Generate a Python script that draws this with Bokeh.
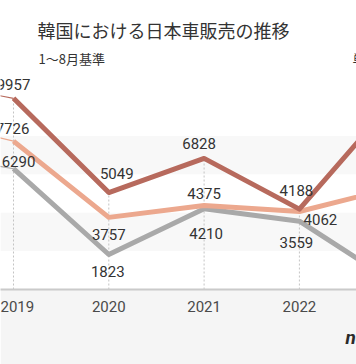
from bokeh.plotting import figure
from bokeh.models import Range1d, FixedTicker, BoxAnnotation, Label, ColumnDataSource, Title
from bokeh.embed import file_html
from bokeh.resources import INLINE
from bokeh.core.properties import value

# ---- data ----
title_text = "韓国における日本車販売の推移"
subtitle_text = "1～8月基準"
unit_text = "単位：台"
logo_text = "news1"
years = [2018, 2019, 2020, 2021, 2022, 2023]
tick_labels = ["2018", "2019", "2020", "2021", "2022", "2023"]
series_dark = [10900, 9957, 5049, 6828, 4188, 9900]
series_salmon = [8900, 7726, 3757, 4375, 4062, 5310]
series_gray = [7170, 6290, 1823, 4210, 3559, 350]
labeled_years = [2019, 2020, 2021, 2022]

# ---- styling / layout ----
W, H = 356, 364
PX_PER_YEAR = 95.3
X0 = 2019 - 13 / PX_PER_YEAR
X1 = X0 + W / PX_PER_YEAR
FRAME_H = 289
UNITS_PER_PX = 52.08
Y1 = FRAME_H * UNITS_PER_PX

def px2x(px):
    return X0 + px / PX_PER_YEAR

def py2y(py):
    return (FRAME_H - py) * UNITS_PER_PX

C_DARK = "#b76a5d"
C_SALMON = "#eca88e"
C_GRAY = "#a9a9a9"

off_dark = [(0, -14), (8, -19), (-5, -15), (-3, -19)]
off_salmon = [(-1, -13), (0, 17), (0, -12), (21, 8)]
off_gray = [(5, -7), (-1, 17), (2, 25), (-3, 21)]

p = figure(width=W, height=H, x_range=Range1d(X0, X1), y_range=Range1d(0, Y1),
           output_backend="svg", toolbar_location=None, y_axis_location=None,
           min_border_left=0, min_border_right=0, min_border_top=0, min_border_bottom=H - FRAME_H)
p.xgrid.visible = False
p.ygrid.visible = False
p.outline_line_color = None
p.background_fill_color = "white"
p.border_fill_color = "#f5f5f5"

# alternating bands
for lo, hi in [(2000, 4000), (6000, 8000)]:
    p.add_layout(BoxAnnotation(bottom=lo, top=hi, fill_color="#f8f8f8", fill_alpha=1,
                               line_color=None, level="underlay"))

# axis
ax = p.xaxis[0]
ax.ticker = FixedTicker(ticks=years)
ax.major_label_overrides = {y: t for y, t in zip(years, tick_labels)}
ax.axis_line_color = "#cacaca"
ax.axis_line_width = 2
ax.major_tick_line_color = None
ax.minor_tick_line_color = None
ax.major_label_text_font = "Roboto"
ax.major_label_text_font_size = "15px"
ax.major_label_text_color = "#4a4a4a"
ax.major_label_standoff = 5

# drop lines
idx = [years.index(y) for y in labeled_years]
tops = [max(series_dark[i], series_salmon[i], series_gray[i]) for i in idx]
p.segment(x0=labeled_years, y0=[0] * len(idx), x1=labeled_years, y1=tops,
          line_color="#c4c4c4", line_width=1, line_dash="2 2")

for s, c in [(series_gray, C_GRAY), (series_salmon, C_SALMON), (series_dark, C_DARK)]:
    p.line(years[:2], s[:2], line_color=c, line_width=1.2)
    p.line(years[1:], s[1:], line_color=c, line_width=5, line_join="round")

xs, ys, ts, dxs, dys = [], [], [], [], []
for s, offs in [(series_dark, off_dark), (series_salmon, off_salmon), (series_gray, off_gray)]:
    for i, (dx, dy) in zip(idx, offs):
        xs.append(years[i]); ys.append(s[i]); ts.append(str(s[i]))
        dxs.append(dx); dys.append(dy)
src = ColumnDataSource(dict(x=xs, y=ys, t=ts, dx=dxs, dy=dys))
p.text(x="x", y="y", text="t", x_offset="dx", y_offset="dy", source=src,
       text_align="center", text_baseline="middle", text_font=value("Roboto"),
       text_font_size="15px", text_color="#333333")

p.add_layout(Label(x=px2x(37), y=py2y(29), text=title_text, text_font="Noto Sans CJK JP",
                   text_font_size="18px", text_baseline="middle", text_color="#333333"))
p.add_layout(Label(x=px2x(38), y=py2y(58), text=subtitle_text, text_font="Noto Sans CJK JP",
                   text_font_size="13px", text_baseline="middle", text_color="#333333"))
p.add_layout(Label(x=px2x(352), y=py2y(58), text=unit_text, text_font="Noto Sans CJK JP",
                   text_font_size="13px", text_baseline="middle", text_color="#333333"))

# logo as a bottom title, mostly beyond the right edge
p.add_layout(Title(text=logo_text, align="left", offset=345, standoff=19,
                   text_font="Roboto", text_font_size="19px", text_font_style="bold italic",
                   text_color="#2a2a2a"), "below")

open("out.html", "w").write(file_html(p, INLINE))
